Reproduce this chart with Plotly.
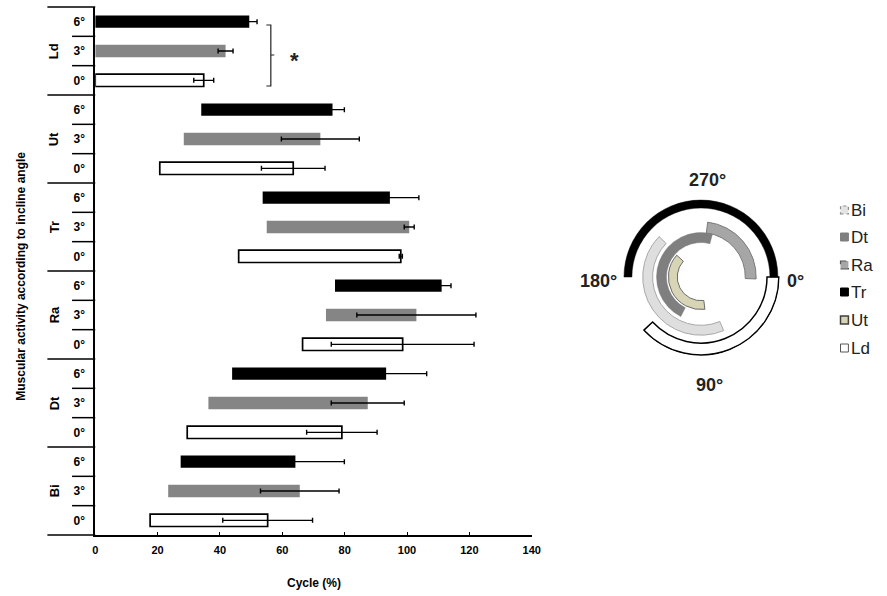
import plotly.graph_objects as go

W, H = 887, 596

# ---------------- data ----------------
muscles = ["Bi", "Dt", "Ra", "Tr", "Ut", "Ld"]      # bottom -> top
angle_labels = ["0°", "3°", "6°"]

start_0 = [17.6, 29.5, 66.5, 46.0, 20.7, 0.0]
end_0 = [55.3, 79.1, 98.6, 98.0, 63.5, 34.8]
err_0 = [14.4, 11.3, 22.9, 0.5, 10.2, 3.2]

start_3 = [23.4, 36.3, 74.0, 55.0, 28.4, 0.0]
end_3 = [65.6, 87.4, 103.0, 100.7, 72.2, 41.8]
err_3 = [12.6, 11.7, 19.1, 1.6, 12.5, 2.4]

start_6 = [27.4, 43.9, 76.9, 53.7, 34.0, 0.0]
end_6 = [64.2, 93.3, 111.1, 94.5, 76.1, 49.4]
err_6 = [15.7, 13.0, 3.0, 9.3, 3.8, 2.5]

x_ticks = [0, 20, 40, 60, 80, 100, 120, 140]

# polar schematic (degrees, 0 = right, clockwise)
arc_names = ["Bi", "Dt", "Ra", "Tr", "Ut", "Ld"]
arc_start = [67, 117, 277, 180, 83, 0]
arc_end = [224, 285, 362, 360, 222, 137]
polar_labels = ["270°", "180°", "0°", "90°"]

# ---------------- styling / layout helpers ----------------
FONT = "Arial, 'Liberation Sans', sans-serif"


def px(x):
    return x / W


def py(y):
    return 1 - y / H


PLOT_L, PLOT_R, PLOT_T, PLOT_B = 93.5, 536, 7, 535
xdom = [px(PLOT_L), px(PLOT_R)]
ydom = [py(PLOT_B), py(PLOT_T)]
n_rows = len(muscles) * len(angle_labels)

bar_styles = {
    0: dict(color="white", line=dict(color="black", width=1.7)),
    1: dict(color="#858585", line=dict(color="#858585", width=0)),
    2: dict(color="black", line=dict(color="black", width=0)),
}
series = [(start_0, end_0, err_0), (start_3, end_3, err_3), (start_6, end_6, err_6)]

fig = go.Figure()

for a, (st, en, er) in enumerate(series):
    rows = [m * 3 + a for m in range(len(muscles))]
    fig.add_trace(go.Bar(
        orientation="h", y=rows, x=[e - s for s, e in zip(st, en)], base=st,
        width=0.42, marker=bar_styles[a], showlegend=False, hoverinfo="skip",
    ))
for a, (st, en, er) in enumerate(series):
    rows = [m * 3 + a for m in range(len(muscles))]
    fig.add_trace(go.Scatter(
        x=en, y=rows, mode="markers",
        marker=dict(size=2, color="rgba(0,0,0,0)"),
        error_x=dict(type="data", array=er, color="black", thickness=1.4, width=2.5),
        showlegend=False, hoverinfo="skip",
    ))

# polar arcs
arc_style = {
    "Bi": dict(color="#dedede", line=dict(color="#a8a8a8", width=1)),
    "Dt": dict(color="#7f7f7f", line=dict(color="#7f7f7f", width=0.5)),
    "Ra": dict(color="#a6a6a6", line=dict(color="#7a7a7a", width=1)),
    "Tr": dict(color="black", line=dict(color="black", width=0.5)),
    "Ut": dict(color="#d8d4b6", line=dict(color="#6b6b6b", width=1)),
    "Ld": dict(color="white", line=dict(color="black", width=1.5)),
}
ring = {"Tr": (70, 8), "Ld": (67, 12), "Ra": (45, 11), "Bi": (49, 10),
        "Dt": (35, 10), "Ut": (24, 9)}
for name in ["Ld", "Tr", "Bi", "Ra", "Dt", "Ut"]:
    i = arc_names.index(name)
    s, e = arc_start[i], arc_end[i]
    b, t = ring[name]
    fig.add_trace(go.Barpolar(
        theta=[(s + e) / 2], width=[e - s], base=[b], r=[t],
        marker=arc_style[name], showlegend=False, hoverinfo="skip",
    ))

# ---------------- shapes ----------------
shapes = []
for j in range(n_rows + 1):
    yy = ydom[0] + j / n_rows * (ydom[1] - ydom[0])
    x0 = 45 if j % 3 == 0 else 70
    shapes.append(dict(type="line", xref="paper", yref="paper",
                       x0=px(x0), x1=px(PLOT_L), y0=yy, y1=yy,
                       line=dict(color="black", width=1.5)))

# significance bracket
bx0, bx1, bx2 = px(267), px(271.5), px(275)
by_t, by_m, by_b = py(25), py(55), py(86)
shapes.append(dict(
    type="path", xref="paper", yref="paper",
    path=f"M {bx0} {by_t} L {bx1} {by_t} L {bx1} {by_b} L {bx0} {by_b} M {bx1} {by_m} L {bx2} {by_m}",
    line=dict(color="#222", width=1.2)))

# manual legend
leg_y = [210, 237, 265, 292, 320, 348]
leg_style = {
    "Bi": dict(fill="#e4e4e4", line="#8c8c8c", dash="dot", w=1.2),
    "Dt": dict(fill="#7f7f7f", line="#7f7f7f", dash="solid", w=1),
    "Ra": dict(fill="#a6a6a6", line="#555555", dash="dash", w=1.2),
    "Tr": dict(fill="black", line="black", dash="solid", w=1),
    "Ut": dict(fill="#d8d4b6", line="#404040", dash="solid", w=1.5),
    "Ld": dict(fill="white", line="#555555", dash="solid", w=1),
}
annotations = []
for name, yc in zip(arc_names, leg_y):
    st = leg_style[name]
    shapes.append(dict(type="rect", xref="paper", yref="paper",
                       x0=px(849), x1=px(857), y0=py(yc + 4), y1=py(yc - 4),
                       fillcolor=st["fill"],
                       line=dict(color=st["line"], width=st["w"], dash=st["dash"])))
    annotations.append(dict(xref="paper", yref="paper", x=px(858), y=py(yc),
                            text=name, showarrow=False, xanchor="left", yanchor="middle",
                            font=dict(family=FONT, size=17, color="#222")))

# ---------------- annotations ----------------
for m, name in enumerate(muscles):
    yc = ydom[0] + (m * 3 + 1.5) / n_rows * (ydom[1] - ydom[0])
    annotations.append(dict(xref="paper", yref="paper", x=px(52), y=yc,
                            text=f"<b>{name}</b>", showarrow=False, textangle=-90,
                            xanchor="center", yanchor="middle",
                            font=dict(family=FONT, size=13, color="black")))

annotations.append(dict(xref="paper", yref="paper", x=px(18), y=py(276),
                        text="<b>Muscular activity according to incline angle</b>",
                        showarrow=False, textangle=-90, xanchor="center", yanchor="middle",
                        font=dict(family=FONT, size=12, color="black")))
annotations.append(dict(xref="paper", yref="paper", x=px(315), y=py(583),
                        text="<b>Cycle (%)</b>", showarrow=False,
                        xanchor="center", yanchor="middle",
                        font=dict(family=FONT, size=12, color="black")))
annotations.append(dict(xref="paper", yref="paper", x=px(295), y=py(61),
                        text="<b>*</b>", showarrow=False, xanchor="center", yanchor="middle",
                        font=dict(family=FONT, size=22, color="#222")))

polar_pos = [(714, 180), (604, 281), (803, 281), (716, 385)]
for lab, (lx, ly) in zip(polar_labels, polar_pos):
    annotations.append(dict(xref="paper", yref="paper", x=px(lx), y=py(ly),
                            text=f"<b>{lab}</b>", showarrow=False,
                            xanchor="center", yanchor="middle",
                            font=dict(family=FONT, size=18, color="#222")))

# ---------------- layout ----------------
CX, CY, R = 707.5, 277, 80
fig.update_layout(
    width=W, height=H,
    margin=dict(l=0, r=0, t=0, b=0),
    paper_bgcolor="white", plot_bgcolor="white",
    barmode="overlay",
    showlegend=False,
    xaxis=dict(domain=xdom, range=[0, 140], tickvals=x_ticks,
               ticktext=[f"<b>{t}</b>" for t in x_ticks],
               ticks="inside", ticklen=3, tickwidth=1.2, tickcolor="black",
               showline=True, linecolor="black", linewidth=1.5,
               showgrid=False, zeroline=False, ticklabelstandoff=4,
               tickfont=dict(family=FONT, size=11, color="black")),
    yaxis=dict(domain=ydom, range=[-0.5, n_rows - 0.5],
               tickvals=list(range(n_rows)),
               ticktext=[f"<b>{angle_labels[i % 3]}</b>" for i in range(n_rows)],
               ticks="", showline=True, linecolor="black", linewidth=1.5,
               showgrid=False, zeroline=False, ticklabelstandoff=6,
               tickfont=dict(family=FONT, size=12, color="black")),
    polar=dict(
        domain=dict(x=[px(CX - R), px(CX + R)], y=[py(CY + R), py(CY - R)]),
        bgcolor="rgba(0,0,0,0)", hole=0,
        radialaxis=dict(visible=False, range=[0, R], showgrid=False),
        angularaxis=dict(visible=False, direction="clockwise", rotation=0,
                         showgrid=False, showline=False),
    ),
    shapes=shapes,
    annotations=annotations,
)

fig.write_html("out.html", config={"displayModeBar": False},
               post_script="document.body.style.margin='0px';document.body.style.overflow='hidden';")
